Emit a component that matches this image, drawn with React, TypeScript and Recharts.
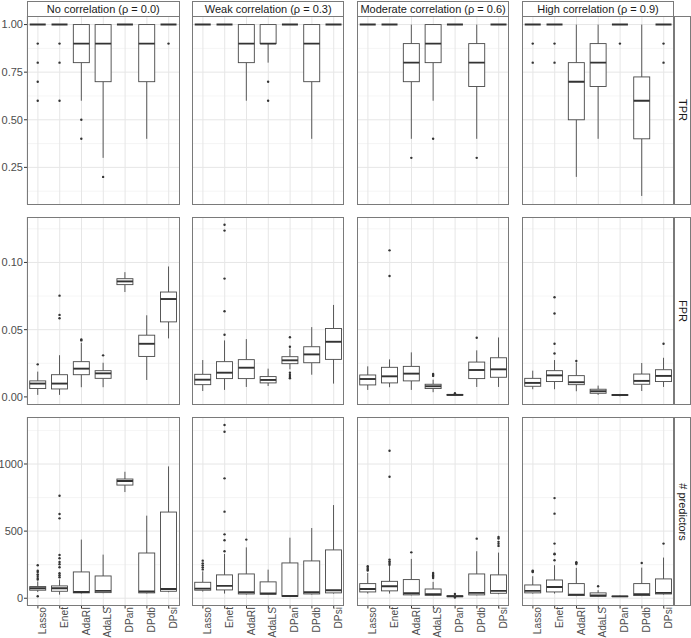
import React from 'react';
import { ComposedChart, Bar, XAxis, YAxis, CartesianGrid } from 'recharts';

// ---- data ---------------------------------------------------------------

const METHODS = ['Lasso', 'Enet', 'AdaRI', 'AdaLS', 'DPan', 'DPdb', 'DPsi'];
const CORRELATIONS = [
  'No correlation (ρ = 0.0)',
  'Weak correlation (ρ = 0.3)',
  'Moderate correlation (ρ = 0.6)',
  'High correlation (ρ = 0.9)',
];
const METRICS = ['TPR', 'FPR', '# predictors'];

type BoxStats = { lo: number; q1: number; med: number; q3: number; hi: number; out: number[] };

// lower whisker, Q1, median, Q3, upper whisker, outliers
const b = (lo: number, q1: number, med: number, q3: number, hi: number, out: number[] = []): BoxStats => ({
  lo, q1, med, q3, hi, out,
});

const TPR_NONE = [
  b(1, 1, 1, 1, 1, [0.9, 0.8, 0.7, 0.6]),
  b(1, 1, 1, 1, 1, [0.9, 0.8, 0.6]),
  b(0.6, 0.8, 0.9, 1, 1, [0.5, 0.4]),
  b(0.3, 0.7, 0.9, 1, 1, [0.2]),
  b(1, 1, 1, 1, 1),
  b(0.4, 0.7, 0.9, 1, 1),
  b(1, 1, 1, 1, 1, [0.9]),
];
const TPR_WEAK = [
  b(1, 1, 1, 1, 1),
  b(1, 1, 1, 1, 1),
  b(0.6, 0.8, 0.9, 1, 1),
  b(0.8, 0.9, 0.9, 1, 1, [0.7, 0.6]),
  b(1, 1, 1, 1, 1),
  b(0.4, 0.7, 0.9, 1, 1),
  b(1, 1, 1, 1, 1),
];
const TPR_MODERATE = [
  b(1, 1, 1, 1, 1),
  b(1, 1, 1, 1, 1),
  b(0.4, 0.7, 0.8, 0.9, 1, [0.3]),
  b(0.6, 0.8, 0.9, 1, 1, [0.4]),
  b(1, 1, 1, 1, 1),
  b(0.4, 0.675, 0.8, 0.9, 1, [0.3]),
  b(1, 1, 1, 1, 1),
];
const TPR_HIGH = [
  b(1, 1, 1, 1, 1, [0.9, 0.8]),
  b(1, 1, 1, 1, 1, [0.9, 0.8]),
  b(0.2, 0.5, 0.7, 0.8, 1),
  b(0.4, 0.675, 0.8, 0.9, 1),
  b(1, 1, 1, 1, 1, [0.9]),
  b(0.1, 0.4, 0.6, 0.725, 1),
  b(1, 1, 1, 1, 1, [0.9, 0.8]),
];

const FPR_NONE = [
  b(0.0015, 0.0062, 0.0099, 0.0119, 0.0188, [0.0242]),
  b(0.0015, 0.0059, 0.0099, 0.0165, 0.031, [0.0585, 0.061, 0.0753]),
  b(0.0072, 0.0165, 0.021, 0.0262, 0.0402, [0.042, 0.0427]),
  b(0.0072, 0.0138, 0.0175, 0.0195, 0.0254, [0.0309]),
  b(0.078, 0.0835, 0.0859, 0.0879, 0.0928),
  b(0.0126, 0.0301, 0.0395, 0.0459, 0.0607),
  b(0.0435, 0.0558, 0.0728, 0.078, 0.097),
];
const FPR_WEAK = [
  b(0.0044, 0.0091, 0.0128, 0.0168, 0.0274),
  b(0.0052, 0.0136, 0.018, 0.0262, 0.042, [0.0462, 0.0637, 0.088, 0.1237, 0.128]),
  b(0.0074, 0.0136, 0.0217, 0.0277, 0.043),
  b(0.0081, 0.0104, 0.0126, 0.0151, 0.021),
  b(0.0205, 0.0247, 0.0272, 0.0299, 0.036, [0.0373, 0.0444, 0.018, 0.0163, 0.0148, 0.0138]),
  b(0.0165, 0.0254, 0.0316, 0.0373, 0.0519),
  b(0.0099, 0.0279, 0.041, 0.0509, 0.0684),
];
const FPR_MODERATE = [
  b(0.0052, 0.0089, 0.0133, 0.0163, 0.0227),
  b(0.0072, 0.0104, 0.0153, 0.022, 0.0279, [0.0899, 0.109]),
  b(0.0052, 0.0119, 0.0173, 0.0227, 0.0331),
  b(0.0035, 0.0062, 0.0079, 0.0094, 0.0128, [0.0156, 0.0163, 0.017]),
  b(0.0008, 0.0012, 0.0015, 0.0018, 0.0022, [0.0027]),
  b(0.0074, 0.0136, 0.02, 0.0259, 0.0346, [0.044]),
  b(0.0074, 0.0146, 0.0205, 0.0291, 0.0442),
];
const FPR_HIGH = [
  b(0.0057, 0.0079, 0.0104, 0.0138, 0.0195),
  b(0.0057, 0.0114, 0.016, 0.0195, 0.0274, [0.0323, 0.0395, 0.062, 0.0741]),
  b(0.0042, 0.0091, 0.0109, 0.0158, 0.0255, [0.0267]),
  b(0.0015, 0.0027, 0.0042, 0.0057, 0.0084),
  b(0.0004, 0.0011, 0.0014, 0.0017, 0.0022),
  b(0.0044, 0.0094, 0.0119, 0.017, 0.0252),
  b(0.0074, 0.0114, 0.0156, 0.0202, 0.0291, [0.0395]),
];

const PRED_NONE = [
  b(47, 60, 74, 87, 125, [15, 140, 150, 165, 178, 195, 205, 246]),
  b(27, 52, 74, 92, 139, [156, 171, 186, 231, 253, 270, 298, 322, 595, 627, 764]),
  b(35, 40, 47, 196, 437),
  b(38, 42, 55, 166, 325),
  b(791, 843, 873, 888, 942),
  b(36, 40, 50, 337, 615),
  b(45, 52, 69, 642, 982),
];
const PRED_WEAK = [
  b(50, 60, 72, 119, 200, [215, 230, 245, 260, 280]),
  b(35, 62, 92, 174, 330, [350, 432, 476, 645, 893, 1240, 1290]),
  b(28, 32, 45, 181, 379, [437]),
  b(27, 30, 35, 122, 213),
  b(14, 15, 17, 263, 451),
  b(28, 32, 45, 278, 523),
  b(35, 40, 60, 360, 694),
];
const PRED_MODERATE = [
  b(35, 47, 69, 109, 188, [206, 215, 225, 238]),
  b(35, 55, 89, 126, 243, [250, 262, 275, 288, 905, 1099]),
  b(22, 25, 37, 139, 293, [342]),
  b(18, 22, 30, 69, 122, [151, 160, 170, 180, 188]),
  b(8, 12, 15, 18, 24, [32, 5]),
  b(22, 25, 40, 181, 350, [444]),
  b(30, 37, 55, 174, 340, [390, 405, 420, 445, 456]),
];
const PRED_HIGH = [
  b(35, 40, 55, 99, 164, [196, 200, 206]),
  b(35, 47, 84, 136, 246, [283, 327, 332, 407, 630, 746]),
  b(16, 20, 27, 109, 226, [255, 262, 268]),
  b(12, 15, 20, 40, 60, [89]),
  b(10, 12, 14, 16, 20),
  b(16, 20, 30, 109, 228, [263]),
  b(28, 32, 40, 144, 303, [407]),
];

const PANELS = [
  [TPR_NONE, TPR_WEAK, TPR_MODERATE, TPR_HIGH],
  [FPR_NONE, FPR_WEAK, FPR_MODERATE, FPR_HIGH],
  [PRED_NONE, PRED_WEAK, PRED_MODERATE, PRED_HIGH],
];

const TPR_TICKS = [0.25, 0.5, 0.75, 1];
const FPR_TICKS = [0, 0.05, 0.1];
const PRED_TICKS = [0, 500, 1000];
const TPR_MINOR = [0.125, 0.375, 0.625, 0.875];
const FPR_MINOR = [0.025, 0.075, 0.125];
const PRED_MINOR = [250, 750, 1250];

// ---- layout -------------------------------------------------------------

const FONT = '"Liberation Sans", Arial, sans-serif';
const BORDER = '#7a7a7a';
const INK = '#333333';
const EDGE = '#474747';
const PANEL_W = 152.6;
const PANEL_H = 188.5;
const COL_X = [27, 191.9, 356.8, 521.7];
const ROW_Y = [16.2, 216.8, 417.4];
const AXIS_W = 27;
const XAXIS_H = 32;

const ROWS = [
  { ticks: TPR_TICKS, minor: TPR_MINOR, domain: [0.055, 1.045], fmt: (v: number) => v.toFixed(2) },
  { ticks: FPR_TICKS, minor: FPR_MINOR, domain: [-0.0064, 0.1338], fmt: (v: number) => v.toFixed(2) },
  { ticks: PRED_TICKS, minor: PRED_MINOR, domain: [-54, 1350], fmt: (v: number) => String(v) },
];

// Box + whiskers + outliers; the bar spans the full value range so its
// y/height give the value -> pixel mapping for every part of the box.
const BoxShape = (props: any) => {
  const { x, y, width, height } = props;
  const p = props.payload ?? props;
  const [mn, mx] = p.span;
  const py = (v: number) => (mx === mn ? y : y + ((mx - v) / (mx - mn)) * height);
  const cx = x + width / 2;
  const top = py(p.q3);
  const bot = py(p.q1);
  return (
    <g>
      <line x1={cx} x2={cx} y1={top} y2={py(p.hi)} stroke={EDGE} strokeWidth={0.9} />
      <line x1={cx} x2={cx} y1={bot} y2={py(p.lo)} stroke={EDGE} strokeWidth={0.9} />
      {bot - top > 0 && (
        <rect x={x} y={top} width={width} height={bot - top} fill="#fff" stroke={EDGE} strokeWidth={0.9} />
      )}
      <line x1={x} x2={x + width} y1={py(p.med)} y2={py(p.med)} stroke={INK} strokeWidth={1.9} />
      {p.out.map((o: number, i: number) => (
        <circle key={i} cx={cx} cy={py(o)} r={1.2} fill={INK} />
      ))}
    </g>
  );
};

// rotated method names, reading bottom to top, ending just under the tick
const renderMethodTick = (props: any) => {
  const { x, y, payload } = props;
  return (
    <g transform={`translate(${x + 8.2},${y - 2.5})`}>
      <text transform="rotate(-90)" textAnchor="end" fontSize={10.2} fill="#4d4d4d" fontFamily={FONT}>
        {payload.value}
      </text>
    </g>
  );
};

const Panel = ({ row, col }: { row: number; col: number }) => {
  const cfg = ROWS[row];
  const showY = col === 0;
  const showX = row === 2;
  const data = PANELS[row][col].map((s, i) => {
    const all = [s.lo, s.hi, ...s.out];
    return { name: METHODS[i], ...s, span: [Math.min(...all), Math.max(...all)] };
  });
  const width = PANEL_W + (showY ? AXIS_W : 0);
  const height = PANEL_H + (showX ? XAXIS_H : 0);
  return (
    <div style={{ position: 'absolute', left: COL_X[col] - (showY ? AXIS_W : 0), top: ROW_Y[row] }}>
      <ComposedChart
        width={width}
        height={height}
        data={data}
        margin={{ top: 0, right: 0, bottom: 0, left: 0 }}
        barCategoryGap="12.5%"
      >
        <CartesianGrid horizontalValues={cfg.minor} vertical={false} stroke="#f2f2f2" strokeWidth={0.8} />
        <CartesianGrid horizontalValues={cfg.ticks} stroke="#e6e6e6" strokeWidth={1} />
        <XAxis
          dataKey="name"
          hide={!showX}
          height={XAXIS_H}
          axisLine={false}
          tickLine={{ stroke: INK }}
          tickSize={3}
          tickMargin={1}
          interval={0}
          tick={renderMethodTick}
        />
        <YAxis
          type="number"
          hide={!showY}
          width={AXIS_W}
          domain={cfg.domain}
          allowDataOverflow
          ticks={cfg.ticks}
          tickFormatter={cfg.fmt}
          axisLine={false}
          tickLine={{ stroke: INK }}
          tickSize={3}
          tickMargin={1}
          tick={{ fontSize: 11, fill: '#4d4d4d', fontFamily: FONT }}
        />
        <Bar dataKey="span" shape={<BoxShape />} isAnimationActive={false} />
      </ComposedChart>
      <div
        style={{
          position: 'absolute',
          left: showY ? AXIS_W : 0,
          top: 0,
          width: PANEL_W,
          height: PANEL_H,
          border: `1px solid ${BORDER}`,
          boxSizing: 'border-box',
          pointerEvents: 'none',
        }}
      />
    </div>
  );
};

export default function App() {
  const cells = [];
  for (let r = 0; r < 3; r++) {
    for (let c = 0; c < 4; c++) cells.push(<Panel key={`${r}-${c}`} row={r} col={c} />);
  }
  return (
    <div
      style={{
        position: 'absolute',
        left: 0,
        top: 0,
        width: 691,
        height: 638,
        background: '#fff',
        fontFamily: FONT,
        overflow: 'hidden',
      }}
    >
      {CORRELATIONS.map((label, c) => (
        <div
          key={label}
          style={{
            position: 'absolute',
            left: COL_X[c],
            top: 0.5,
            width: PANEL_W,
            height: 16.2,
            border: `1px solid ${BORDER}`,
            boxSizing: 'border-box',
            background: '#fff',
            fontSize: 11,
            color: '#1a1a1a',
            textAlign: 'center',
            lineHeight: '14px',
            whiteSpace: 'nowrap',
          }}
        >
          {label}
        </div>
      ))}
      {METRICS.map((label, r) => (
        <div
          key={label}
          style={{
            position: 'absolute',
            left: COL_X[3] + PANEL_W,
            top: ROW_Y[r],
            width: 16.5,
            height: PANEL_H,
            border: `1px solid ${BORDER}`,
            boxSizing: 'border-box',
            background: '#fff',
          }}
        >
          <div
            style={{
              position: 'absolute',
              left: '50%',
              top: '50%',
              transform: 'translate(-50%, -50%) rotate(90deg)',
              fontSize: 11,
              color: '#1a1a1a',
              whiteSpace: 'nowrap',
            }}
          >
            {label}
          </div>
        </div>
      ))}
      {cells}
    </div>
  );
}
